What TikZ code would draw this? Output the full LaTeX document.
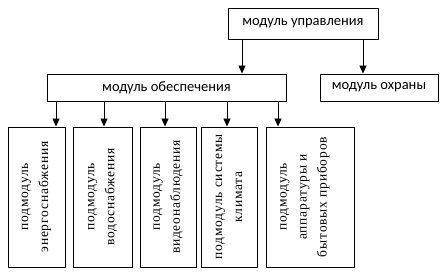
\documentclass[tikz,border=0pt]{standalone}
\usepackage{fontspec}
\setmainfont{Carlito}
\newfontfamily\serifru[LetterSpace=6]{Liberation Serif}
\usetikzlibrary{arrows.meta}
\begin{document}
\begin{tikzpicture}[x=1pt,y=1pt,
  box/.style={draw=black, line width=0.9pt, inner sep=0pt, font=\fontsize{14.5}{17}\selectfont},
  subbox/.style={draw=black, line width=0.9pt, inner sep=0pt, minimum height=140pt},
  vtext/.style={rotate=90, align=center, inner sep=0pt, font=\serifru\fontsize{13.5}{20}\selectfont},
  arr/.style={line width=0.9pt, -{Triangle[width=7pt,length=8pt]}}]
\useasboundingbox (0,0) rectangle (447,-275);
% top level
\node[box, minimum width=150pt, minimum height=31pt] (upr) at (303,-23.5) {модуль управления};
\node[box, minimum width=239pt, minimum height=27pt] (obes) at (166.5,-87.5) {модуль обеспечения};
\node[box, minimum width=118pt, minimum height=27pt] (ohr) at (379,-87.5) {модуль охраны};
% submodules
\node[subbox, minimum width=57pt] (s1) at (36.5,-197) {};
\node[subbox, minimum width=59pt] (s2) at (102.5,-197) {};
\node[subbox, minimum width=56pt] (s3) at (168,-197) {};
\node[subbox, minimum width=56pt] (s4) at (229,-197) {};
\node[subbox, minimum width=88pt] (s5) at (310,-197) {};
\node[vtext] (t1) at (s1.center) {подмодуль\\энергоснабжения};
\node[vtext] (t2) at (s2.center) {подмодуль\\водоснабжения};
\node[vtext] (t3) at (s3.center) {подмодуль\\видеонаблюдения};
\node[vtext] (t4) at (s4.center) {подмодуль системы\\климата};
\node[vtext] (t5) at ([xshift=-5pt]s5.center) {подмодуль\\аппаратуры и\\бытовых приборов};
% arrow positions
\coordinate (xa) at (242,0);
\coordinate (xb) at (363,0);
\coordinate (x1) at (56,0);
\coordinate (x2) at (104,0);
\coordinate (x3) at (165,0);
\coordinate (x4) at (227,0);
\coordinate (x5) at (278,0);
\draw[arr] (upr.south -| xa) -- (obes.north -| xa);
\draw[arr] (upr.south -| xb) -- (ohr.north -| xb);
\draw[arr] (obes.south -| x1) -- (s1.north -| x1);
\draw[arr] (obes.south -| x2) -- (s2.north -| x2);
\draw[arr] (obes.south -| x3) -- (s3.north -| x3);
\draw[arr] (obes.south -| x4) -- (s4.north -| x4);
\draw[arr] (obes.south -| x5) -- (s5.north -| x5);
\end{tikzpicture}
\end{document}
